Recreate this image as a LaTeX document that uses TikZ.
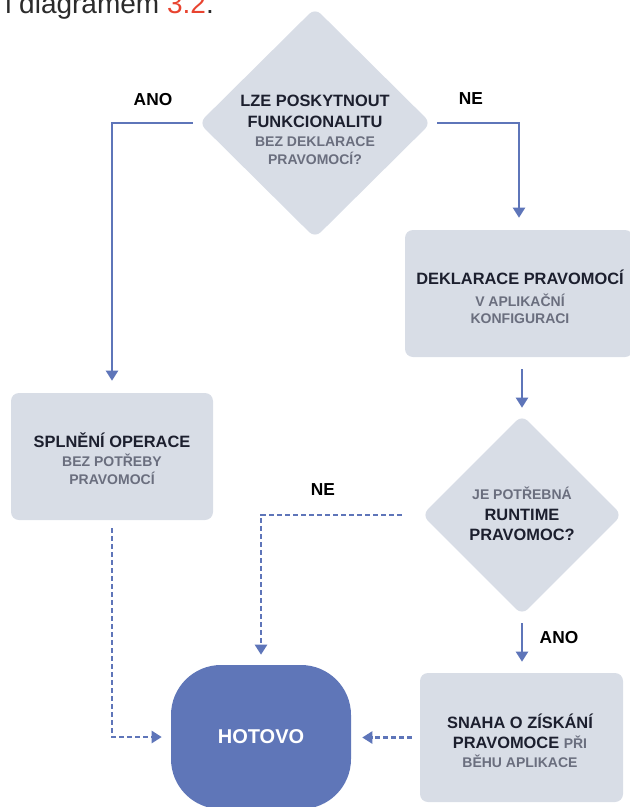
\documentclass[tikz,border=0pt]{standalone}
\usepackage{fontspec}
\setmainfont{Liberation Sans}
\usetikzlibrary{arrows.meta,shapes.geometric}

\definecolor{boxfill}{HTML}{D8DDE6}
\definecolor{flow}{HTML}{5E75B9}
\definecolor{donefill}{HTML}{5F76B8}
\definecolor{darktxt}{HTML}{1C1F2E}
\definecolor{graytxt}{HTML}{6A6E7E}
\definecolor{refred}{HTML}{E8432F}
\definecolor{bodytxt}{HTML}{2B2B2B}

% secondary (grey, smaller) part of a label
\newcommand\gy[1]{{\color{graytxt}\fontsize{10.5}{14}\selectfont #1}}

\begin{document}
\begin{tikzpicture}[x=0.75pt,y=-0.75pt,
  decision/.style={diamond, fill=boxfill, rounded corners=6pt, inner sep=0pt},
  stepbox/.style={rectangle, fill=boxfill, rounded corners=6pt, inner sep=0pt},
  endbox/.style={rectangle, fill=donefill, rounded corners=37.5pt, inner sep=0pt,
    text=white, font=\bfseries\fontsize{15}{18}\selectfont},
  caption/.style={align=center, text=darktxt, inner sep=0pt,
    font=\bfseries\fontsize{12.3}{14}\selectfont},
  answer/.style={inner sep=0pt, text=black, font=\bfseries\fontsize{13}{15}\selectfont},
  flowline/.style={draw=flow, line width=1.5pt, -{Triangle[width=9pt,length=7.5pt]}},
  dotflow/.style={flowline, line width=1.7pt, dash pattern=on 3.6pt off 2.4pt},
]
\path[use as bounding box] (0,0) rectangle (630,807);
\clip (0,0) rectangle (630,807);

% running text above the chart
\node[anchor=base west, inner sep=0pt, text=bodytxt, font=\fontsize{21}{25}\selectfont]
  (lead) at (5,13) {i diagramem \textcolor{refred}{3.2}.};

% shapes
\node[decision, minimum width=174pt, minimum height=172.5pt] (d1) at (315,123) {};
\node[stepbox, minimum width=151.5pt, minimum height=95.25pt] (b1) at (112,456.5) {};
\node[stepbox, minimum width=171pt, minimum height=95.25pt] (b2) at (519,293.5) {};
\node[decision, minimum width=150pt, minimum height=150pt] (d2) at (522,515) {};
\node[stepbox, minimum width=152.25pt, minimum height=96.75pt] (b3) at (521.5,737.5) {};
\node[endbox, minimum width=135pt, minimum height=108pt] (hot) at (261,737) {HOTOVO};

% texts inside the shapes
\node[caption] (t1) at (315,130)
  {LZE POSKYTNOUT\\[1.75pt] FUNKCIONALITU\\ \gy{BEZ DEKLARACE}\\[-0.5pt] \gy{PRAVOMOCÍ?}};
\node[caption] (t2) at (520,297)
  {DEKLARACE PRAVOMOCÍ\\[2.9pt] \gy{V APLIKAČNÍ}\\[-1.25pt] \gy{KONFIGURACI}};
\node[caption] (t3) at (112,458.7)
  {SPLNĚNÍ OPERACE\\ \gy{BEZ POTŘEBY}\\[-0.5pt] \gy{PRAVOMOCÍ}};
\node[caption] (t4) at (522,513.6)
  {\gy{JE POTŘEBNÁ}\\[2.1pt] RUNTIME\\[1pt] PRAVOMOC?};
\node[caption] (t5) at (520,740.6)
  {SNAHA O ZÍSKÁNÍ\\[1pt] PRAVOMOCE \gy{PŘI}\\ \gy{BĚHU APLIKACE}};

% answer labels
\node[answer] (a1) at (153,100) {ANO};
\node[answer] (n1) at (471,99) {NE};
\node[answer] (n2) at (323,490) {NE};
\node[answer] (a2) at (559,638) {ANO};

% connectors
\draw[flowline, shorten <=4.5pt, shorten >=9pt] (d1.west) -| (b1.north);
\draw[flowline, shorten <=4.5pt, shorten >=9pt] (d1.east) -| (b2.north);
\draw[flowline, shorten <=9pt, shorten >=5.25pt] (b2.south -| d2.north) -- (d2.north);
\draw[flowline, shorten <=6pt, shorten >=8.25pt] (d2.south) -- (d2.south |- b3.north);
\draw[dotflow, shorten <=6pt, shorten >=8.25pt] (b3.west) -- (b3.west -| hot.east);
\draw[dotflow, shorten <=6pt, shorten >=6.75pt] (b1.south) |- (hot.west);
\draw[dotflow, shorten <=15pt, shorten >=7.5pt] (d2.west) -| (hot.north);
\end{tikzpicture}
\end{document}
